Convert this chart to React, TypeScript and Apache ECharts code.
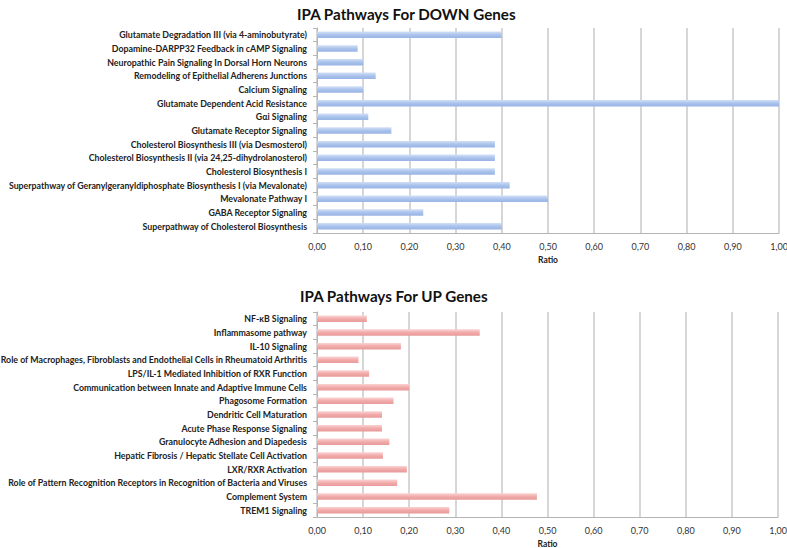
import React, { useEffect, useRef } from "react";
import * as echarts from "echarts";

const downCategories = [
  "Glutamate Degradation III (via 4-aminobutyrate)",
  "Dopamine-DARPP32 Feedback in cAMP Signaling",
  "Neuropathic Pain Signaling In Dorsal Horn Neurons",
  "Remodeling of Epithelial Adherens Junctions",
  "Calcium Signaling",
  "Glutamate Dependent Acid Resistance",
  "Gαi Signaling",
  "Glutamate Receptor Signaling",
  "Cholesterol Biosynthesis III (via Desmosterol)",
  "Cholesterol Biosynthesis II (via 24,25-dihydrolanosterol)",
  "Cholesterol Biosynthesis I",
  "Superpathway of Geranylgeranyldiphosphate Biosynthesis I (via Mevalonate)",
  "Mevalonate Pathway I",
  "GABA Receptor Signaling",
  "Superpathway of Cholesterol Biosynthesis",
];
const downValues = [0.4, 0.088, 0.1, 0.127, 0.1, 1.0, 0.111, 0.161, 0.385, 0.385, 0.385, 0.417, 0.5, 0.23, 0.4];

const upCategories = [
  "NF-κB Signaling",
  "Inflammasome pathway",
  "IL-10 Signaling",
  "Role of Macrophages, Fibroblasts and Endothelial Cells in Rheumatoid Arthritis",
  "LPS/IL-1 Mediated Inhibition of RXR Function",
  "Communication between Innate and Adaptive Immune Cells",
  "Phagosome Formation",
  "Dendritic Cell Maturation",
  "Acute Phase Response Signaling",
  "Granulocyte Adhesion and Diapedesis",
  "Hepatic Fibrosis / Hepatic Stellate Cell Activation",
  "LXR/RXR Activation",
  "Role of Pattern Recognition Receptors in Recognition of Bacteria and Viruses",
  "Complement System",
  "TREM1 Signaling",
];
const upValues = [0.108, 0.353, 0.182, 0.09, 0.113, 0.2, 0.166, 0.141, 0.141, 0.157, 0.143, 0.195, 0.174, 0.477, 0.287];

const titles = ["IPA Pathways For DOWN Genes", "IPA Pathways For UP Genes"];
const axisName = "Ratio";

const FONT = "Lato, 'Open Sans', sans-serif";

function grad(c0: string, c1: string, c2: string) {
  return new echarts.graphic.LinearGradient(0, 0, 0, 1, [
    { offset: 0, color: c0 },
    { offset: 0.5, color: c1 },
    { offset: 1, color: c2 },
  ]);
}

export default function App() {
  const ref = useRef<HTMLDivElement>(null);
  useEffect(() => {
    if (!ref.current) return;
    const chart = echarts.init(ref.current, undefined, { renderer: "svg" });
    const xAxisCommon = (gi: number) => ({
      type: "value",
      gridIndex: gi,
      min: 0,
      max: 1,
      interval: 0.1,
      name: axisName,
      nameLocation: "middle",
      nameGap: 22,
      nameTextStyle: { fontFamily: FONT, fontWeight: "bold", fontSize: 8.5, color: "#222" },
      axisLine: { show: true, lineStyle: { color: "#b5b5b5", width: 1 } },
      axisTick: { show: false },
      axisLabel: {
        fontFamily: FONT,
        fontSize: 9,
        color: "#333",
        margin: 9,
        formatter: (v: number) => v.toFixed(2).replace(".", ","),
      },
      splitLine: { show: true, lineStyle: { color: "#c8c8c8", width: 1.5 } },
    });
    const yAxisCommon = (gi: number, cats: string[]) => ({
      type: "category",
      gridIndex: gi,
      data: cats,
      inverse: true,
      axisLine: { show: true, lineStyle: { color: "#b5b5b5", width: 1 } },
      axisTick: { show: true, length: 4, lineStyle: { color: "#b5b5b5" } },
      axisLabel: {
        fontFamily: FONT,
        fontSize: 8.8,
        fontWeight: "bold",
        color: "#222",
        margin: 10,
      },
      splitLine: { show: false },
    });
    chart.setOption({
      animation: false,
      backgroundColor: "#ffffff",
      title: [
        {
          text: titles[0],
          left: 292,
          top: 1,
          textStyle: { fontFamily: FONT, fontWeight: "bold", fontSize: 15.2, color: "#111" },
        },
        {
          text: titles[1],
          left: 295,
          top: 283,
          textStyle: { fontFamily: FONT, fontWeight: "bold", fontSize: 15.2, color: "#111" },
        },
      ],
      grid: [
        { left: 317, right: 8, top: 28, height: 205, outerBoundsMode: "none", containLabel: false },
        { left: 317, right: 9, top: 312, height: 205, outerBoundsMode: "none", containLabel: false },
      ],
      xAxis: [xAxisCommon(0), xAxisCommon(1)],
      yAxis: [yAxisCommon(0, downCategories), yAxisCommon(1, upCategories)],
      series: [
        {
          type: "bar",
          xAxisIndex: 0,
          yAxisIndex: 0,
          data: downValues,
          barWidth: 6.5,
          itemStyle: { color: grad("#d3e0f6", "#aac3ec", "#98b4e5") },
        },
        {
          type: "bar",
          xAxisIndex: 1,
          yAxisIndex: 1,
          data: upValues,
          barWidth: 6.5,
          itemStyle: { color: grad("#fad4d3", "#f1abaa", "#e79a99") },
        },
      ],
    });
    return () => chart.dispose();
  }, []);
  return (
    <div
      ref={ref}
      style={{ position: "fixed", left: 0, top: 0, width: 787, height: 548, background: "#fff" }}
    />
  );
}
